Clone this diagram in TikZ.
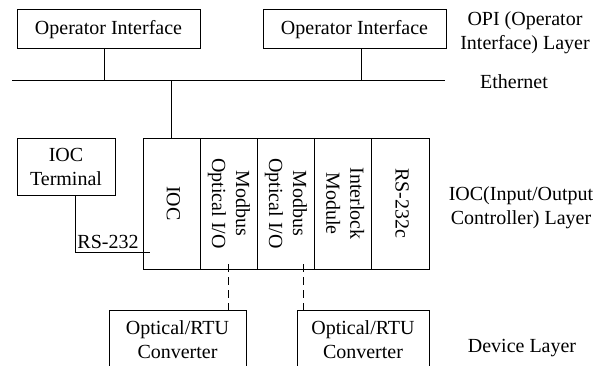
\documentclass[tikz,border=0pt]{standalone}
\usepackage{fontspec}
\setmainfont{Liberation Serif}
\usetikzlibrary{positioning}
\newcommand{\diagfont}{\fontsize{20}{24}\selectfont}
\newcommand{\sidetext}[1]{\rotatebox{-90}{\begin{tabular}{@{}c@{}}#1\end{tabular}}}

\begin{document}
\begin{tikzpicture}[x=1pt, y=1pt, line width=1pt,
    every node/.style={font=\diagfont},
    box/.style={draw, align=center, inner sep=0pt},
    slot/.style={draw, minimum width=57.2pt, minimum height=131pt, inner sep=0pt, outer sep=0pt},
    layer/.style={align=center},
    fiber/.style={dash pattern=on 8pt off 5pt}]
        \useasboundingbox (0,0) rectangle (603,365); %
        % OPI layer
        \node[box, minimum width=183pt, minimum height=39pt](opi1) at (108.5,335.5){Operator Interface}; %
        \node[box, minimum width=183pt, minimum height=39pt](opi2) at (354.5,335.5){Operator Interface}; %
        \node[layer](opilayer) at (525,332){OPI (Operator\\Interface) Layer}; %
        % ethernet bus
        \coordinate (ethL) at (12,284); %
        \coordinate (ethR) at (445,284); %
        \node(eth) at (514,283){Ethernet}; %
        \draw (ethL) -- (ethR); %
        \draw ([xshift=-4.5pt]opi1.south) -- ([xshift=-4.5pt]opi1.south |- ethL); %
        \draw ([xshift=6.5pt]opi2.south) -- ([xshift=6.5pt]opi2.south |- ethL); %
        % IOC rack
        \node[slot](ioc) at (171.6,161.5){\sidetext{IOC}}; %
        \node[slot, right=0pt of ioc](mod1){\sidetext{Modbus\\Optical I/O}}; %
        \node[slot, right=0pt of mod1](mod2){\sidetext{Modbus\\Optical I/O}}; %
        \node[slot, right=0pt of mod2](ilk){\sidetext{Interlock\\Module}}; %
        \node[slot, right=0pt of ilk](rs){\sidetext{RS-232c}}; %
        \draw (ioc.north) -- (ioc.north |- ethL); %
        \node[box, minimum width=98pt, minimum height=57pt](term) at (66,198.5){IOC\\Terminal}; %
        \coordinate (rsend) at (150,113); %
        \draw ([xshift=9pt]term.south) |- (rsend) node[pos=0.72, above, inner sep=3pt](rslabel){RS-232}; %
        \node[layer](ioclayer) at (521,157){IOC(Input/Output\\Controller) Layer}; %
        % device layer
        \node[box, minimum width=137pt, minimum height=58pt, anchor=north](conv1) at (177.5,55){Optical/RTU\\Converter}; %
        \node[box, minimum width=132pt, minimum height=58pt, anchor=north](conv2) at (363,55){Optical/RTU\\Converter}; %
        \draw[fiber] ([yshift=5pt]mod1.south) -- (mod1.south |- conv1.north); %
        \draw[fiber] ([shift={(17pt,5pt)}]mod2.south) -- ([xshift=17pt]mod2.south |- conv2.north); %
        \node[layer](devlayer) at (522,17){Device Layer}; %
\end{tikzpicture}
\end{document}
